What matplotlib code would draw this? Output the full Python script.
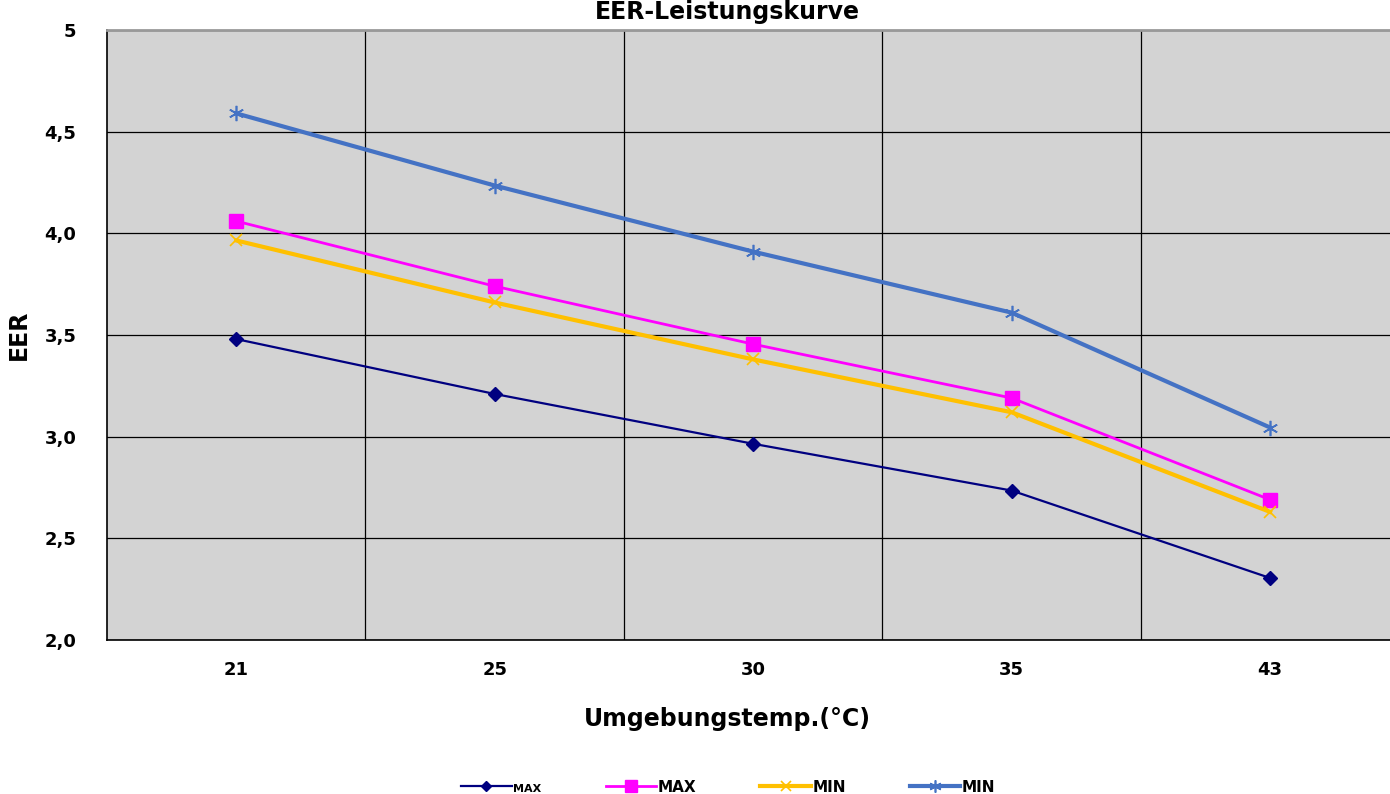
import numpy as np
import matplotlib.pyplot as plt
from matplotlib.ticker import FixedLocator, MultipleLocator, FuncFormatter

plt.rcParams['font.family'] = ['DejaVu Sans']

temps = ["21", "25", "30", "35", "43"]
max_cool = [3.48, 3.21, 2.965, 2.735, 2.305]
max_heat = [4.06, 3.74, 3.455, 3.19, 2.69]
min_cool = [3.965, 3.66, 3.38, 3.12, 2.63]
min_heat = [4.59, 4.235, 3.91, 3.61, 3.045]

x = np.arange(len(temps))

fig = plt.figure(figsize=(13.9, 7.94), dpi=100)
ax = fig.add_axes([107 / 1390, 1 - 640 / 794, 1 - 107 / 1390, 610 / 794])
ax.set_facecolor("#D3D3D3")

ax.plot(x, max_cool, color="#000080", lw=1.6, marker="D", ms=7, label="MAX")
ax.plot(x, max_heat, color="#FF00FF", lw=2, marker="s", ms=10, label="MAX")
ax.plot(x, min_cool, color="#FFC000", lw=3, marker="x", ms=9, mew=1.2, label="MIN")
ax.plot(x, min_heat, color="#4472C4", lw=3, marker=(6, 2, 0), ms=11, mew=1.2, label="MIN")

ax.set_xlim(-0.5, 4.464)
ax.set_ylim(2.0, 5.0)
ax.set_xticks(x)
ax.set_xticklabels(temps)
ax.xaxis.set_minor_locator(FixedLocator([0.5, 1.5, 2.5, 3.5]))
ax.yaxis.set_major_locator(MultipleLocator(0.5))
ax.yaxis.set_major_formatter(FuncFormatter(
    lambda v, p: "5" if abs(v - 5) < 1e-6 else f"{v:.1f}".replace(".", ",")))

ax.grid(axis="y", which="major", color="black", lw=0.9)
ax.grid(axis="x", which="minor", color="black", lw=0.9)
ax.set_axisbelow(True)
ax.tick_params(which="both", length=0)
ax.tick_params(axis="x", pad=15, labelsize=13)
ax.tick_params(axis="y", pad=22, labelsize=13)
for lbl in ax.get_xticklabels() + ax.get_yticklabels():
    lbl.set_fontweight("bold")

for s in ["left", "bottom"]:
    ax.spines[s].set_color("black")
    ax.spines[s].set_linewidth(1.2)
ax.spines["top"].set_color("#999999")
ax.spines["top"].set_linewidth(2)
ax.spines["right"].set_visible(False)

ax.set_xlabel("Umgebungstemp.(°C)", fontsize=17, fontweight="bold")
ax.xaxis.set_label_coords((727 - 107) / 1283, -0.11)
ax.set_ylabel("EER", fontsize=17, fontweight="bold", labelpad=10)
fig.text(0.523, 0.985, "EER-Leistungskurve", ha="center", va="center",
         fontsize=17, fontweight="bold")

leg = fig.legend(loc="lower center", bbox_to_anchor=(0.524, -0.018), ncol=4,
                 frameon=False, fontsize=11, handlelength=3.3, columnspacing=4.2,
                 handletextpad=0.1, markerscale=0.8)
for i, t in enumerate(leg.get_texts()):
    t.set_fontweight("bold")
    if i == 0:
        t.set_fontsize(8)

fig.savefig("out.png", dpi=100)
